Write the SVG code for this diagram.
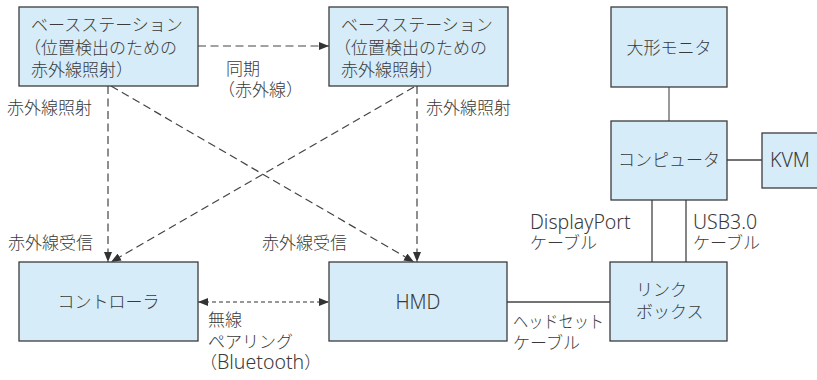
<svg xmlns="http://www.w3.org/2000/svg" width="817" height="380" viewBox="0 0 817 380">
<defs>
<style>
.box{fill:#d6ecf8;stroke:#3c3c3c;stroke-width:1.3}
text{font-family:"Noto Sans CJK JP","Noto Sans",sans-serif;font-size:17px;font-weight:300;fill:#3a3a3a}
.lat{font-family:"Noto Sans","Liberation Sans",sans-serif;font-size:19.5px;font-weight:300}
.mid{text-anchor:middle}
.ir{fill:none;stroke:#444;stroke-width:1.2;stroke-dasharray:8 4.5}
.bt{fill:none;stroke:#333;stroke-width:1.2;stroke-dasharray:4 3}
.wire{fill:none;stroke:#444;stroke-width:1.3}
.wire2{fill:none;stroke:#777;stroke-width:1.5}
</style>
<marker id="ah" viewBox="0 0 10 8" refX="10" refY="4" markerWidth="10" markerHeight="8" markerUnits="userSpaceOnUse" orient="auto-start-reverse">
<path d="M0,0 L10,4 L0,8 z" fill="#333"/>
</marker>
</defs>
<rect width="817" height="380" fill="#fff"/>
<g id="connectors">
<line class="ir" x1="198" y1="46" x2="329" y2="46" marker-end="url(#ah)"/>
<line class="ir" x1="108" y1="86" x2="108" y2="262" marker-end="url(#ah)"/>
<line class="ir" x1="111" y1="86" x2="414" y2="262" marker-end="url(#ah)"/>
<line class="ir" x1="417" y1="86" x2="417" y2="262" marker-end="url(#ah)"/>
<line class="ir" x1="414" y1="87" x2="111" y2="262" marker-end="url(#ah)"/>
<line class="bt" x1="198" y1="302" x2="329" y2="302" marker-start="url(#ah)" marker-end="url(#ah)"/>
<line class="wire2" x1="669" y1="87" x2="669" y2="121"/>
<line class="wire" x1="727" y1="160" x2="762" y2="160"/>
<line class="wire" x1="652" y1="200" x2="652" y2="262"/>
<line class="wire" x1="686" y1="200" x2="686" y2="262"/>
<line class="wire" x1="507" y1="302" x2="610" y2="302"/>
<text x="7" y="114">赤外線照射</text>
<text x="426" y="114">赤外線照射</text>
<text x="226" y="75">同期</text>
<text x="218" y="96">（赤外線）</text>
<text x="8" y="249">赤外線受信</text>
<text x="262" y="249">赤外線受信</text>
<text x="208" y="326">無線</text>
<text x="208" y="348">ペアリング</text>
<text x="200" y="369">（<tspan class="lat">Bluetooth</tspan>）</text>
<text class="lat" x="530" y="229">DisplayPort</text>
<text x="530" y="249">ケーブル</text>
<text class="lat" x="693" y="229">USB3.0</text>
<text x="693" y="249">ケーブル</text>
<text x="513" y="328" textLength="91" lengthAdjust="spacingAndGlyphs">ヘッドセット</text>
<text x="513" y="349">ケーブル</text>
</g>
<g id="base1">
<rect class="box" x="19" y="7" width="179" height="79"/>
<text x="31" y="31">ベースステーション</text>
<text x="24" y="54">（位置検出のための</text>
<text x="31" y="76">赤外線照射）</text>
</g>
<g id="base2">
<rect class="box" x="329" y="7" width="179" height="79"/>
<text x="341" y="31">ベースステーション</text>
<text x="334" y="54">（位置検出のための</text>
<text x="341" y="76">赤外線照射）</text>
</g>
<g id="monitor">
<rect class="box" x="611" y="7" width="116" height="80"/>
<text class="mid" x="669" y="54">大形モニタ</text>
</g>
<g id="computer">
<rect class="box" x="611" y="121" width="116" height="79"/>
<text class="mid" x="669" y="166">コンピュータ</text>
</g>
<g id="kvm">
<rect class="box" x="762" y="133" width="60" height="55"/>
<text class="lat" x="770" y="167">KVM</text>
</g>
<g id="controller">
<rect class="box" x="19" y="262" width="179" height="79"/>
<text class="mid" x="108.5" y="308">コントローラ</text>
</g>
<g id="hmd">
<rect class="box" x="329" y="262" width="178" height="79"/>
<text class="lat mid" x="418" y="309">HMD</text>
</g>
<g id="linkbox">
<rect class="box" x="610" y="262" width="117" height="79"/>
<text x="636" y="296">リンク</text>
<text x="636" y="318">ボックス</text>
</g>
</svg>
